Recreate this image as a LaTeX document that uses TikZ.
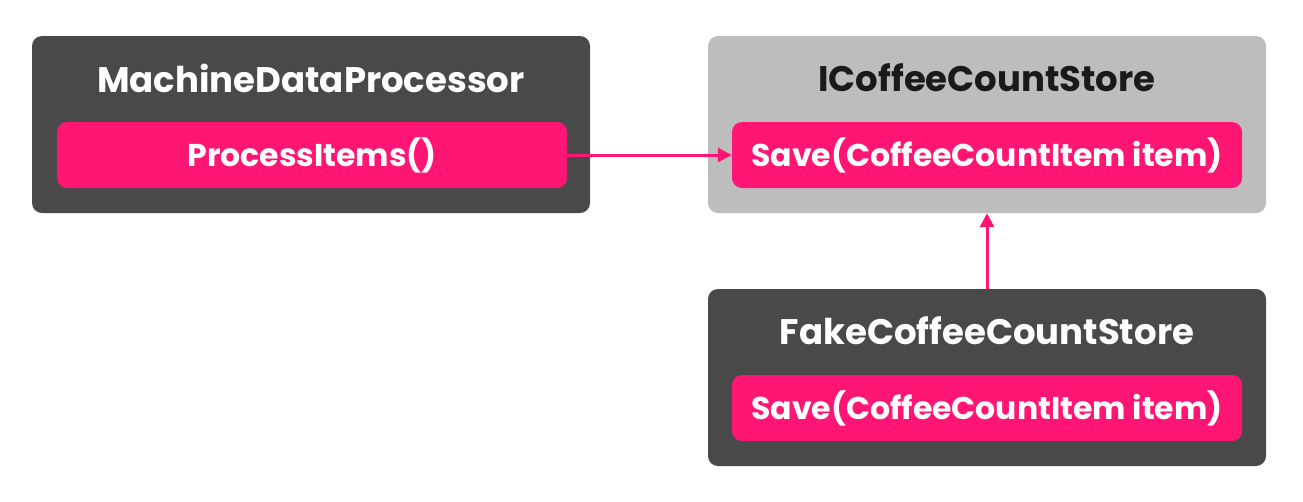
\documentclass[tikz,border=0pt]{standalone}
\usepackage{fontspec}
\setmainfont{Poppins}[BoldFont={Poppins Bold}]
\usetikzlibrary{arrows.meta}
\definecolor{darkbox}{HTML}{494949}
\definecolor{lightbox}{HTML}{BDBDBD}
\definecolor{pinkc}{HTML}{FF1675}
\definecolor{titledark}{HTML}{1A1A1A}
\tikzset{
  outer/.style={rounded corners=10pt, minimum width=558pt, minimum height=177pt, inner sep=0pt},
  inner/.style={fill=pinkc, rounded corners=10pt, minimum width=510pt, minimum height=66pt, inner sep=0pt, text=white, font=\fontsize{31.5}{37}\selectfont\bfseries},
  title/.style={font=\fontsize{35.5}{42}\selectfont\bfseries, inner sep=0pt},
  conn/.style={draw=pinkc, line width=3pt, -{Triangle[length=14pt,width=14pt]}}
}
\begin{document}
\begin{tikzpicture}[x=1pt,y=-1pt]
\useasboundingbox (0,0) rectangle (1303,501);
\node[outer, fill=darkbox] (mdp) at (311,124.5) {};
\node[outer, fill=lightbox] (ics) at (987,124.5) {};
\node[outer, fill=darkbox] (fcs) at (987,377.5) {};
\node[title, text=white] (mdpt) at (311,78) {MachineDataProcessor};
\node[title, text=titledark] (icst) at (987,78) {ICoffeeCountStore};
\node[title, text=white] (fcst) at (987,331) {FakeCoffeeCountStore};
\node[inner] (pi) at (312,155) {ProcessItems()};
\node[inner] (save1) at (987,155) {Save(CoffeeCountItem item)};
\node[inner] (save2) at (987,408) {Save(CoffeeCountItem item)};
\draw[conn] (pi.east) -- (save1.west);
\draw[conn] (fcs.north) -- (ics.south);
\end{tikzpicture}
\end{document}
